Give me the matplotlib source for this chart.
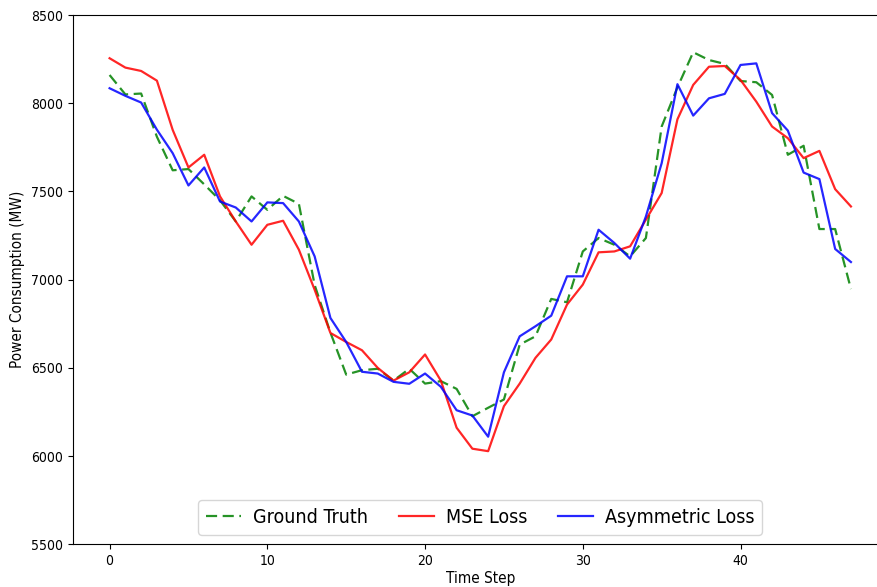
import matplotlib
matplotlib.use("Agg")
import matplotlib.pyplot as plt
import numpy as np

plt.rcParams['font.stretch'] = 'condensed'

# Hourly power consumption over the test window
ground_truth = [8160, 8050, 8055, 7810, 7620, 7627, 7540, 7450, 7330, 7472,
                7396, 7475, 7430, 6970, 6700, 6462, 6487, 6495, 6428, 6495,
                6411, 6425, 6381, 6226, 6274, 6321, 6632, 6679, 6891, 6872,
                7160, 7236, 7198, 7132, 7236, 7868, 8090, 8289, 8245, 8223,
                8126, 8119, 8047, 7708, 7759, 7287, 7287, 6947]
mse_pred = [8255, 8202, 8183, 8128, 7849, 7636, 7708, 7472, 7330, 7198,
            7311, 7334, 7170, 6943, 6698, 6647, 6600, 6500, 6428, 6475,
            6576, 6428, 6161, 6042, 6028, 6283, 6411, 6557, 6661, 6859,
            6972, 7155, 7160, 7189, 7340, 7491, 7909, 8104, 8207, 8211,
            8132, 8009, 7868, 7802, 7689, 7730, 7513, 7415]
asym_pred = [8085, 8042, 8004, 7850, 7717, 7534, 7636, 7443, 7409, 7330,
             7438, 7434, 7330, 7132, 6783, 6647, 6478, 6468, 6421, 6410,
             6468, 6393, 6260, 6230, 6110, 6475, 6679, 6736, 6796, 7019,
             7019, 7283, 7208, 7119, 7358, 7660, 8108, 7930, 8028, 8053,
             8217, 8226, 7944, 7845, 7607, 7570, 7174, 7100]

steps = np.arange(len(ground_truth))

fig = plt.figure(figsize=(8.78, 5.87), dpi=100)
ax = fig.add_axes([0.0826, 0.0727, 0.9288, 0.9017])

ax.plot(steps, ground_truth, color='g', ls='--', dashes=(5, 2.5), lw=1.6, alpha=0.85, label='Ground Truth')
ax.plot(steps, mse_pred, color='r', lw=1.6, alpha=0.85, label='MSE Loss')
ax.plot(steps, asym_pred, color='b', lw=1.6, alpha=0.85, label='Asymmetric Loss')

ax.set_ylim(5500, 8500)
ax.set_xlim(-2.35, 49.35)
ax.set_xticks([0, 10, 20, 30, 40])
ax.set_yticks([5500, 6000, 6500, 7000, 7500, 8000, 8500])
ax.tick_params(labelsize=10)

ax.set_xlabel('Time Step', fontsize=11, labelpad=2)
ax.set_ylabel('Power Consumption (MW)', fontsize=11)

ax.legend(loc='lower center', ncol=3, fontsize=14,
          handlelength=1.8, handletextpad=0.6, columnspacing=1.6)

fig.savefig('out.png', dpi=100)
